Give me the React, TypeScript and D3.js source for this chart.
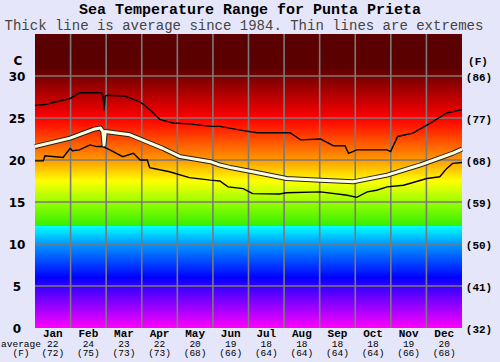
import React from "react";
import * as d3 from "d3";

const months = ["Jan","Feb","Mar","Apr","May","Jun","Jul","Aug","Sep","Oct","Nov","Dec"];
const avgC = [22,24,23,22,20,19,18,18,18,18,19,20];
const avgF = [72,75,73,73,68,66,64,64,64,64,66,68];
const cTicks = [0,5,10,15,20,25,30];
const fTicks = [32,41,50,59,68,77,86];

const maxDays = [0,8.5,17,30,38,56,58,59,60,62,77,90,98,107,118,132,150,158,178,190,218,227,244,255,265,268,275,301,304,310,323,338,352,365];
const maxVals = [26.5,26.6,26.9,27.3,28.0,28.0,27.8,25.9,27.6,27.7,27.6,26.9,26.0,24.8,24.4,24.3,24.0,24.0,23.5,23.25,23.25,22.4,22.5,21.7,21.7,20.8,21.2,21.2,21.0,22.8,23.2,24.4,25.6,26.0];

const avgDays = [0,30,50,56,58,59,60,81,109,124,150,158,167,186,215,244,272,301,329,357,365];
const avgVals = [21.6,22.6,23.65,23.8,23.4,21.8,23.4,23.0,21.4,20.4,19.8,19.4,19.1,18.6,17.8,17.6,17.4,18.2,19.4,20.8,21.3];

const minDays = [0,7,8.5,24,30,32,38,47,53,58,64,75,84,90,96,98,115,132,150,158,165,178,186,209,215,244,267,275,284,292,301,315,335,346,352,357,365];
const minVals = [19.9,19.9,20.5,20.3,21.4,21.1,21.2,21.8,21.6,21.6,21.2,20.4,20.8,20.0,20.0,19.1,18.6,17.9,17.6,17.5,16.8,16.6,16.0,15.95,16.1,16.2,15.8,15.55,16.2,16.4,16.8,17.0,17.8,18.0,19.0,19.6,19.7];

const gradTemps = [35,31,25,24,20,17.5,15,12.1,12.1,10,6,5,0];
const gradColors = ["#5a0000","#5c0000","#ff0000","#ff1a00","#ff9900","#ffff00","#99ff00","#33ee00","#00ffff","#0099ff","#0000ff","#3300ff","#ff00ff"];

export default function App() {
  const W = 500, H = 362;
  const L = 35, R = 462, T = 34, B = 328;
  const x = d3.scaleLinear().domain([0, 365]).range([L, R]);
  const y = d3.scaleLinear().domain([0, 35]).range([B, T]);
  const line = d3.line<[number, number]>().x(d => x(d[0])).y(d => y(d[1]));
  const zip = (a: number[], b: number[]) => a.map((v, i) => [v, b[i]] as [number, number]);
  const monthW = (R - L) / 12;
  const mono = "'Liberation Mono', 'Courier New', monospace";
  const sans = "'DejaVu Sans', Verdana, sans-serif";
  return (
    <svg width={W} height={H} style={{ position: "absolute", left: 0, top: 0 }}>
      <defs>
        <linearGradient id="tg" gradientUnits="userSpaceOnUse" x1={0} x2={0} y1={y(35)} y2={y(0)}>
          {gradTemps.map((t, i) => (
            <stop key={i} offset={(35 - t) / 35} stopColor={gradColors[i]} />
          ))}
        </linearGradient>
      </defs>
      <rect x={0} y={0} width={W} height={H} fill="#e6e6fa" />
      <rect x={L} y={T} width={R - L} height={B - T} fill="url(#tg)" />
      {d3.range(1, 12).map(m => (
        <line key={"v" + m} x1={L + m * monthW} x2={L + m * monthW} y1={T} y2={B} stroke="#7a7a7a" strokeWidth={1.6} />
      ))}
      {cTicks.filter(t => t > 0).map(t => (
        <line key={"h" + t} x1={L} x2={R} y1={y(t)} y2={y(t)} stroke="#7a7a7a" strokeWidth={1.6} />
      ))}
      <path d={line(zip(maxDays, maxVals)) || ""} fill="none" stroke="#000" strokeWidth={1.4} />
      <path d={line(zip(minDays, minVals)) || ""} fill="none" stroke="#000" strokeWidth={1.4} />
      <path d={line(zip(avgDays, avgVals)) || ""} fill="none" stroke="#222" strokeWidth={5} strokeLinejoin="round" />
      <path d={line(zip(avgDays, avgVals)) || ""} fill="none" stroke="#ffffe0" strokeWidth={3} strokeLinejoin="round" />
      <text x={250} y={14} textAnchor="middle" fontFamily={mono} fontWeight="bold" fontSize={15} fill="#000">Sea Temperature Range for Punta Prieta</text>
      <text x={244} y={30} textAnchor="middle" fontFamily={mono} fontSize={14} fill="#444">Thick line is average since 1984. Thin lines are extremes</text>
      <text x={18} y={65} textAnchor="middle" fontFamily={sans} fontWeight="bold" fontSize={12} fill="#000">C</text>
      <text x={478} y={65} textAnchor="middle" fontFamily={mono} fontWeight="bold" fontSize={11} fill="#000">(F)</text>
      {cTicks.map(t => (
        <text key={"c" + t} x={17} y={y(t) + 5} textAnchor="middle" fontFamily={sans} fontWeight="bold" fontSize={12} fill="#000">{t}</text>
      ))}
      {fTicks.map((f, i) => (
        <text key={"f" + f} x={479} y={y(cTicks[i]) + 5} textAnchor="middle" fontFamily={mono} fontWeight="bold" fontSize={11} fill="#000">({f})</text>
      ))}
      {months.map((m, i) => {
        const cx = L + (i + 0.5) * monthW;
        return (
          <g key={m}>
            <text x={cx} y={337} textAnchor="middle" fontFamily={mono} fontWeight="bold" fontSize={11} fill="#000">{m}</text>
            <text x={cx} y={346.5} textAnchor="middle" fontFamily={mono} fontSize={9.5} fill="#000">{avgC[i]}</text>
            <text x={cx} y={356} textAnchor="middle" fontFamily={mono} fontSize={9.5} fill="#000">({avgF[i]})</text>
          </g>
        );
      })}
      <text x={21} y={346.5} textAnchor="middle" fontFamily={mono} fontSize={9.5} fill="#000">average</text>
      <text x={21} y={356} textAnchor="middle" fontFamily={mono} fontSize={9.5} fill="#000">(F)</text>
    </svg>
  );
}
